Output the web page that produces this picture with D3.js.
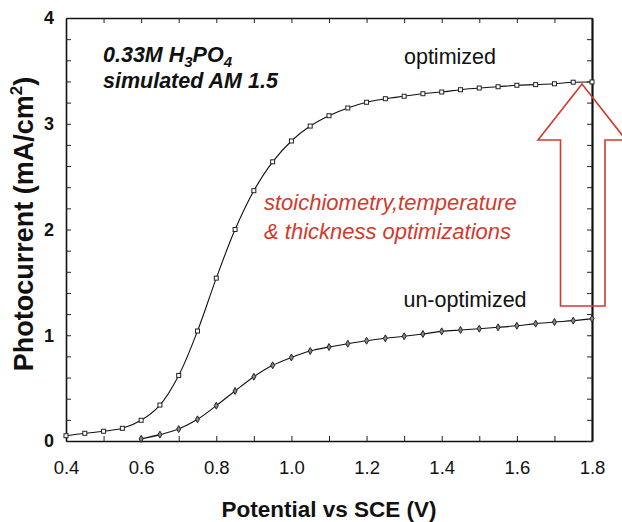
<!DOCTYPE html>
<html>
<head>
<meta charset="utf-8">
<script src="https://cdn.jsdelivr.net/npm/d3@7"></script>
<style>
  body { margin: 0; background: #fff; }
  svg { display: block; font-family: Arial, "Liberation Sans", sans-serif; }
</style>
</head>
<body>
<svg id="chart" width="622" height="522"></svg>
<script>
// potential (V vs SCE) and photocurrent (mA/cm2)
var optPotential = [0.40,0.45,0.50,0.55,0.60,0.65,0.70,0.75,0.80,0.85,0.90,0.95,1.00,1.05,1.10,1.15,1.20,1.25,1.30,1.35,1.40,1.45,1.50,1.55,1.60,1.65,1.70,1.75,1.80];
var optCurrent   = [0.05,0.073,0.092,0.12,0.196,0.34,0.62,1.04,1.54,2.0,2.367,2.64,2.837,2.978,3.076,3.149,3.203,3.237,3.26,3.284,3.30,3.322,3.338,3.35,3.364,3.37,3.378,3.393,3.395];
var unoptPotential = [0.60,0.65,0.70,0.75,0.80,0.85,0.90,0.95,1.00,1.05,1.10,1.15,1.20,1.25,1.30,1.35,1.40,1.45,1.50,1.55,1.60,1.65,1.70,1.75,1.80];
var unoptCurrent   = [0.02,0.06,0.113,0.205,0.334,0.473,0.608,0.716,0.79,0.851,0.889,0.92,0.948,0.971,0.99,1.012,1.037,1.05,1.062,1.075,1.09,1.11,1.125,1.138,1.157];

var xTicks = [0.4,0.5,0.6,0.7,0.8,0.9,1.0,1.1,1.2,1.3,1.4,1.5,1.6,1.7,1.8];
var xLabels = [0.4,0.6,0.8,1.0,1.2,1.4,1.6,1.8];
var yTicks = [0,0.2,0.4,0.6,0.8,1,1.2,1.4,1.6,1.8,2,2.2,2.4,2.6,2.8,3,3.2,3.4,3.6,3.8,4];
var yLabels = [0,1,2,3,4];

var svg = d3.select("#chart");
var L = 66, R = 592, T = 18, B = 441;

var x = d3.scaleLinear().domain([0.4,1.8]).range([L,R]);
var y = d3.scaleLinear().domain([0,4]).range([B,T]);

var isLabel = function(list){
	return function(d){ return list.some(function(v){ return Math.abs(v-d)<1e-6; }); };
};
var xIs = isLabel(xLabels), yIs = isLabel(yLabels);

// --------------------------------
// axes, ticks pointing inwards
// --------------------------------
var gB = svg.append("g").attr("transform","translate(0,"+B+")")
	.call(d3.axisBottom(x).tickValues(xTicks).tickSizeInner(-5).tickSizeOuter(0).tickPadding(20)
		.tickFormat(function(d){ return xIs(d) ? d3.format(".1f")(d) : ""; }));
gB.selectAll("text").attr("font-size",18.5).attr("font-family","Arial, 'Liberation Sans', sans-serif").attr("fill","#111");

var gT = svg.append("g").attr("transform","translate(0,"+T+")")
	.call(d3.axisTop(x).tickValues(xTicks).tickSizeInner(-5).tickSizeOuter(0).tickFormat(""));

var gL = svg.append("g").attr("transform","translate("+L+",0)")
	.call(d3.axisLeft(y).tickValues(yTicks).tickSizeInner(-5).tickSizeOuter(0).tickPadding(12)
		.tickFormat(function(d){ return yIs(d) ? d3.format("d")(d) : ""; }));
gL.selectAll("text").attr("font-size",18).attr("font-weight","bold").attr("font-family","Arial, 'Liberation Sans', sans-serif").attr("fill","#111");

var gR = svg.append("g").attr("transform","translate("+R+",0)")
	.call(d3.axisRight(y).tickValues(yTicks).tickSizeInner(-5).tickSizeOuter(0).tickFormat(""));

svg.selectAll(".domain").attr("stroke","#111").attr("stroke-width",1.6);
gR.select(".domain").attr("stroke-width",2.2);
svg.selectAll(".tick line").attr("stroke","#222").attr("stroke-width",1);

// --------------------------------
// curves
// --------------------------------
var optData = optPotential.map(function(v,i){ return [v, optCurrent[i]]; });
var unoptData = unoptPotential.map(function(v,i){ return [v, unoptCurrent[i]]; });

var line = d3.line()
	.x(function(d){ return x(d[0]); })
	.y(function(d){ return y(d[1]); })
	.curve(d3.curveCatmullRom);

svg.append("path").datum(optData).attr("d",line)
	.attr("fill","none").attr("stroke","#111").attr("stroke-width",1.1);
svg.append("path").datum(unoptData).attr("d",line)
	.attr("fill","none").attr("stroke","#111").attr("stroke-width",1.1);

svg.append("g").selectAll("rect").data(optData).enter().append("rect")
	.attr("x",function(d){ return x(d[0])-2; })
	.attr("y",function(d){ return y(d[1])-2; })
	.attr("width",4).attr("height",4)
	.attr("fill","#fff").attr("stroke","#222").attr("stroke-width",1);

svg.append("g").selectAll("path").data(unoptData).enter().append("path")
	.attr("d", d3.symbol().type(d3.symbolDiamond).size(14))
	.attr("transform",function(d){ return "translate("+x(d[0])+","+y(d[1])+")"; })
	.attr("fill","#888").attr("stroke","#222").attr("stroke-width",1);

// --------------------------------
// annotations
// --------------------------------
var cond = svg.append("g").attr("font-size",21.5).attr("font-weight","bold").attr("font-style","italic").attr("fill","#111");
var t1 = cond.append("text").attr("x",103).attr("y",62);
t1.append("tspan").text("0.33M H");
t1.append("tspan").attr("font-size",15).attr("dy",5).text("3");
t1.append("tspan").attr("dy",-5).text("PO");
t1.append("tspan").attr("font-size",15).attr("dy",5).text("4");
cond.append("text").attr("x",103).attr("y",88).text("simulated AM 1.5");

svg.append("text").attr("x",450).attr("y",64).attr("text-anchor","middle")
	.attr("font-size",21.5).attr("fill","#111").text("optimized");
svg.append("text").attr("x",465).attr("y",307).attr("text-anchor","middle")
	.attr("font-size",21.5).attr("fill","#111").text("un-optimized");

var red = "#d23a2c";
var note = svg.append("g").attr("font-size",22).attr("font-style","italic").attr("fill",red);
note.append("text").attr("x",264).attr("y",210).text("stoichiometry,temperature");
note.append("text").attr("x",264).attr("y",239).text("& thickness optimizations");

// hollow block arrow, tip at the end of the optimized curve
var tipX = 582, tipY = 84;
var arrow = [[0,0],[-44,56],[-21.5,56],[-21.5,222],[23,222],[23,56],[44,56]];
svg.append("path")
	.attr("d", d3.line()(arrow.map(function(p){ return [tipX+p[0], tipY+p[1]]; }))+"Z")
	.attr("fill","none").attr("stroke",red).attr("stroke-width",1.6);

// --------------------------------
// axis titles
// --------------------------------
svg.append("text").attr("x",329).attr("y",517).attr("text-anchor","middle")
	.attr("font-size",22.5).attr("font-weight","bold").attr("fill","#111").text("Potential vs SCE (V)");
var yt = svg.append("text").attr("transform","translate(33,224) rotate(-90)").attr("text-anchor","middle")
	.attr("font-size",27).attr("font-weight","bold").attr("fill","#111");
yt.append("tspan").text("Photocurrent (mA/cm");
yt.append("tspan").attr("font-size",17).attr("dy",-11).text("2");
yt.append("tspan").attr("dy",11).text(")");
</script>
</body>
</html>
